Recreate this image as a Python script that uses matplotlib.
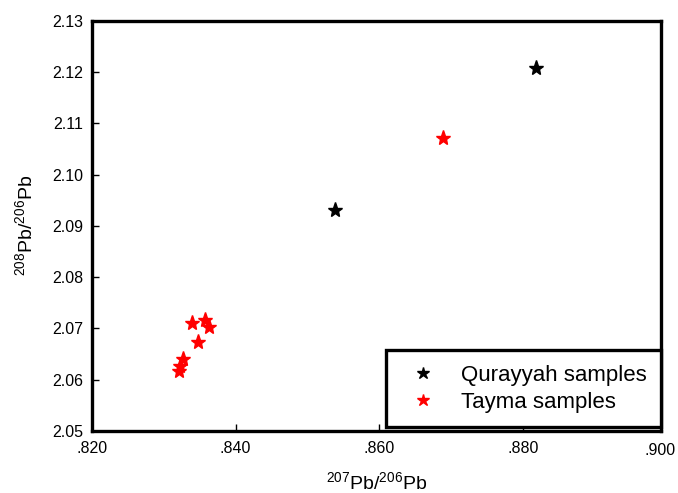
import matplotlib
matplotlib.use("Agg")
import matplotlib.pyplot as plt
from matplotlib.ticker import FormatStrFormatter, FuncFormatter

plt.rcParams['font.family'] = ['Liberation Sans', 'DejaVu Sans']
plt.rcParams['mathtext.fontset'] = 'custom'
plt.rcParams['mathtext.rm'] = 'Liberation Sans'
plt.rcParams['mathtext.it'] = 'Liberation Sans'

# Qurayyah samples
qur_x = [0.8818, 0.8538]
qur_y = [2.1207, 2.0930]

# Tayma samples
tay_x = [0.8688, 0.8340, 0.8358, 0.8363, 0.8348, 0.8327, 0.8323, 0.8321]
tay_y = [2.1071, 2.0710, 2.0716, 2.0703, 2.0673, 2.0640, 2.0627, 2.0616]

xticks = [0.820, 0.840, 0.860, 0.880]
last_xtick = 0.900
yticks = [2.05, 2.06, 2.07, 2.08, 2.09, 2.10, 2.11, 2.12, 2.13]


def xfmt(v, pos=None):
    return ('%.3f' % v).lstrip('0')


fig = plt.figure(figsize=(6.78, 4.93), dpi=100)
ax = fig.add_axes([0.1353, 0.1258, 0.8397, 0.8323])

ax.plot(qur_x, qur_y, linestyle='none', marker='*', color='black', markersize=11, label='Qurayyah samples')
ax.plot(tay_x, tay_y, linestyle='none', marker='*', color='red', markersize=11, label='Tayma samples')

# the frame stops a little short of .900 in the original
ax.set_xlim(0.82, 0.8992)
ax.set_ylim(2.05, 2.13)
ax.set_xticks(xticks)
ax.set_yticks(yticks)
ax.xaxis.set_major_formatter(FuncFormatter(xfmt))
ax.yaxis.set_major_formatter(FormatStrFormatter('%.2f'))
ax.tick_params(direction='in', length=5, width=1, labelsize=11.5)
ax.tick_params(axis='y', pad=6)
ax.tick_params(axis='x', pad=7.5)
ax.tick_params(top=False, right=False)
# last label nudged left so it stays inside the figure
ax.annotate(xfmt(last_xtick), xy=(last_xtick, 0), xycoords=('data', 'axes fraction'),
            xytext=(-4.5, -7.5 - 1.2), textcoords='offset points', ha='center', va='top',
            fontsize=11.5, annotation_clip=False)

for s in ax.spines.values():
    s.set_linewidth(2.4)

ax.set_xlabel(r'$^{207}$Pb/$^{206}$Pb', fontsize=14, labelpad=11)
ax.set_ylabel(r'$^{208}$Pb/$^{206}$Pb', fontsize=14, labelpad=12)

leg = ax.legend(loc='lower right', bbox_to_anchor=(1.0, 0.009), borderaxespad=0,
                fontsize=16, frameon=True, fancybox=False, framealpha=1, markerscale=0.8,
                handletextpad=0.74, borderpad=0.66, labelspacing=0.25, handlelength=1.94)
leg.get_frame().set_edgecolor('black')
leg.get_frame().set_linewidth(2.4)

fig.savefig('out.png', dpi=100)
